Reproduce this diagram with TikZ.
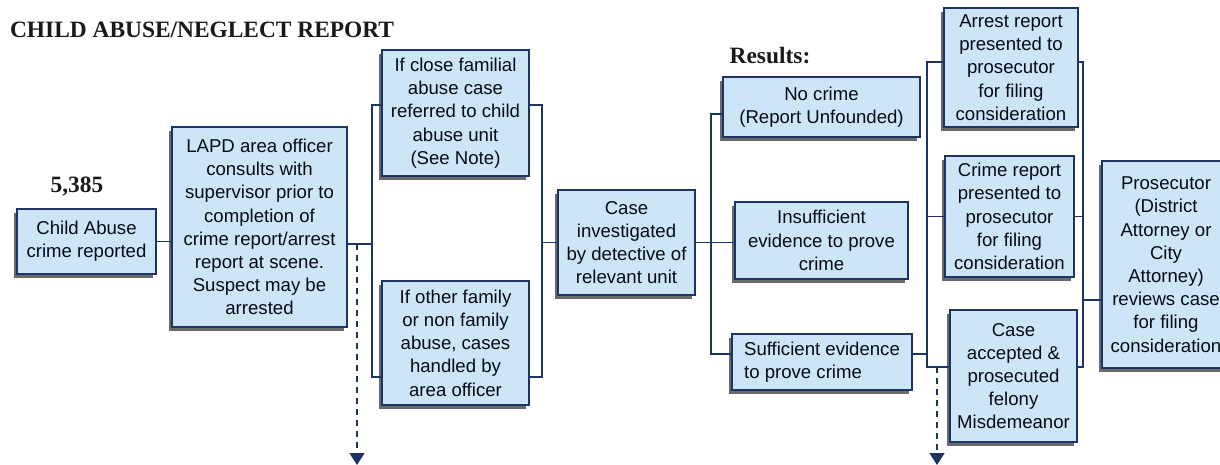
\documentclass[tikz,border=0pt]{standalone}
\usepackage{fontspec}
\setmainfont{Liberation Serif}
\setsansfont{Liberation Sans}
\usetikzlibrary{arrows.meta,shadows}
\definecolor{cdNavy}{RGB}{30,52,100}
\definecolor{cdFill}{RGB}{204,230,248}
\definecolor{cdShade}{RGB}{105,105,110}

\begin{document}
\begin{tikzpicture}[x=0.5pt,y=-0.5pt,font=\sffamily\fontsize{9.3}{11.6}\selectfont,
  B/.style={draw=cdNavy,line width=1pt,fill=cdFill,align=center,inner sep=1pt,
            text=black!80!cdNavy,
            drop shadow={shadow xshift=-1.6pt,shadow yshift=-1.8pt,fill=cdShade,opacity=1}},
  ln/.style={draw=cdNavy,line width=0.75pt},
  dsh/.style={ln,dash pattern=on 3pt off 2.5pt,-{Triangle[width=7.5pt,length=6pt]}},
  hd/.style={font=\rmfamily\bfseries\fontsize{11.7}{13.5}\selectfont,text=black!90}]
\useasboundingbox (0,0) rectangle (1220,465);

\node[hd,anchor=west] (title) at (3,30) {CHILD ABUSE/NEGLECT REPORT};
\node[hd] (count) at (77,187) {5,385};
\node[hd] (results) at (770,56) {Results:};

\node[B,minimum width=69.5pt,minimum height=32.5pt] (report) at (86.5,241.5)
  {Child Abuse\\crime reported};
\node[B,minimum width=87.5pt,minimum height=100pt] (lapd) at (259.5,227)
  {LAPD area officer\\consults with\\supervisor prior to\\completion of\\crime report/arrest\\report at scene.\\Suspect may be\\arrested};
\node[B,minimum width=73.5pt,minimum height=63pt] (close) at (455.5,113)
  {If close familial\\abuse case\\referred to child\\abuse unit\\(See Note)};
\node[B,minimum width=73.5pt,minimum height=62pt] (other) at (455.5,343)
  {If other family\\or non family\\abuse, cases\\handled by\\area officer};
\node[B,minimum width=68.5pt,minimum height=52.5pt] (detect) at (626.5,242.5)
  {Case\\investigated\\by detective of\\relevant unit};
\node[B,minimum width=98.5pt,minimum height=30pt] (nocrime) at (821.5,107)
  {No crime\\(Report Unfounded)};
\node[B,minimum width=86.5pt,minimum height=38.5pt] (insuff) at (821.5,240.5)
  {Insufficient\\evidence to prove\\crime};
\node[B,align=left,minimum width=90pt,minimum height=28pt] (suff) at (822,362)
  {Sufficient evidence\\to prove crime};
\node[B,minimum width=67pt,minimum height=59.5pt] (arrest) at (1011,67.5)
  {Arrest report\\presented to\\prosecutor\\for filing\\consideration};
\node[B,minimum width=64.5pt,minimum height=60.5pt] (crimerep) at (1009.5,216.5)
  {Crime report\\presented to\\prosecutor\\for filing\\consideration};
\node[B,minimum width=63.5pt,minimum height=66pt] (accepted) at (1013.5,376)
  {Case\\accepted \&\\prosecuted\\felony\\Misdemeanor};
\node[B,minimum width=64pt,minimum height=103.5pt] (prosec) at (1166,264.5)
  {Prosecutor\\(District\\Attorney or\\City\\Attorney)\\reviews case\\for filing\\consideration};

\coordinate (a1) at (372,105);
\coordinate (a2) at (372,377);
\coordinate (ja) at (372,244);
\coordinate (b1) at (542,105);
\coordinate (b2) at (542,377);
\coordinate (jb) at (542,242.5);
\coordinate (c1) at (711,114);
\coordinate (c2) at (711,354);
\coordinate (jc) at (711,242.5);
\coordinate (e1) at (927,62);
\coordinate (e2) at (927,367);
\coordinate (f1) at (1083,62);
\coordinate (f2) at (1083,367);
\coordinate (jf) at (1083,300);
\coordinate (dA) at (357,465);
\coordinate (dB) at (937,465);

\draw[ln] (report.east) -- (report.east -| lapd.west);
\draw[ln] (lapd.east |- ja) -- (ja);
\draw[ln] (close.west |- a1) -- (a1) -- (a2) -- (other.west |- a2);
\draw[ln] (close.east |- b1) -- (b1) -- (b2) -- (other.east |- b2);
\draw[ln] (jb) -- (detect.west);
\draw[ln] (detect.east) -- (jc);
\draw[ln] (nocrime.west |- c1) -- (c1) -- (c2) -- (suff.west |- c2);
\draw[ln] (jc) -- (insuff.west |- jc);
\draw[ln] (arrest.west |- e1) -- (e1) -- (e2) -- (accepted.west |- e2);
\draw[ln] (suff.east |- c2) -- (c2 -| e1);
\draw[ln] (crimerep.west) -- (crimerep.west -| e1);
\draw[ln] (arrest.east |- f1) -- (f1) -- (f2) -- (accepted.east |- f2);
\draw[ln] (crimerep.east) -- (crimerep.east -| f1);
\draw[ln] (jf) -- (prosec.west |- jf);
\draw[dsh] (ja -| dA) -- (dA);
\draw[dsh] (e2 -| dB) -- (dB);
\end{tikzpicture}
\end{document}
